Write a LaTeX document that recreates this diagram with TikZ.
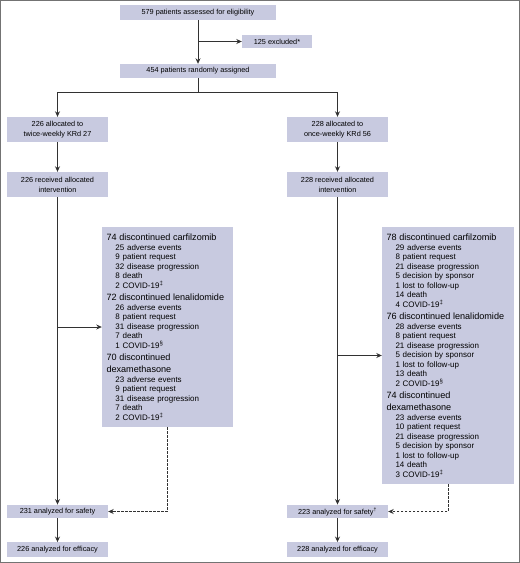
\documentclass[tikz,border=0pt]{standalone}
\usepackage{fontspec}
\setmainfont{Liberation Sans}
\usetikzlibrary{arrows.meta}
\definecolor{boxfill}{RGB}{200,202,224}
\definecolor{linegray}{RGB}{50,50,50}
\definecolor{framegray}{RGB}{115,115,115}
\newcommand{\disc}[1]{{\fontsize{9.1}{12}\selectfont #1}}
\newcommand{\reason}[1]{\hspace*{9pt}#1}

\begin{document}
\begin{tikzpicture}[x=1pt,y=-1pt,
		box/.style={fill=boxfill, inner sep=0pt, align=center, font=\fontsize{7.3}{10}\selectfont},
		armbox/.style={box, minimum width=101pt, minimum height=#1},
		listbox/.style={fill=boxfill, align=left, inner xsep=4.5pt, font=\fontsize{8}{9.5}\selectfont},
		arr/.style={draw=linegray, line width=0.8pt, -{Stealth[length=5.5pt,width=5pt]}},
		darr/.style={arr, dash pattern=on 2.5pt off 1.5pt}]
			\useasboundingbox (0,0) rectangle (520,563);
			\draw[framegray, line width=1pt] (0.5,0.5) rectangle (519.5,562.5);
			% screening
			\node[box, minimum width=156pt, minimum height=15pt] (elig) at (198,12.5) {579 patients assessed for eligibility};
			\node[box, minimum width=70pt, minimum height=13pt] (excl) at (277,41.5) {125 excluded*};
			\node[box, minimum width=156pt, minimum height=14pt] (rand) at (198,71) {454 patients randomly assigned};
			\coordinate (split) at (198,92.7);
			% arms
			\node[armbox=25pt] (alloc1) at (57.5,129.5) {226 allocated to\\twice-weekly KRd 27};
			\node[armbox=25pt] (alloc2) at (337.5,129.5) {228 allocated to\\once-weekly KRd 56};
			\node[armbox=25pt] (recv1) at (57.5,184.5) {226 received allocated\\intervention};
			\node[armbox=25pt] (recv2) at (337.5,184.5) {228 received allocated\\intervention};
			\node[listbox, text width=122pt, minimum height=200pt] (disc1) at (167.5,327) {%
				\disc{74 discontinued carfilzomib}\\
				\reason{25 adverse events}\\
				\reason{9 patient request}\\
				\reason{32 disease progression}\\
				\reason{8 death}\\
				\reason{2 COVID-19\textsuperscript{‡}}\\[3pt]
				\disc{72 discontinued lenalidomide}\\
				\reason{26 adverse events}\\
				\reason{8 patient request}\\
				\reason{31 disease progression}\\
				\reason{7 death}\\
				\reason{1 COVID-19\textsuperscript{§}}\\[3pt]
				\disc{70 discontinued}\\[2.5pt]
				\disc{dexamethasone}\\
				\reason{23 adverse events}\\
				\reason{9 patient request}\\
				\reason{31 disease progression}\\
				\reason{7 death}\\
				\reason{2 COVID-19\textsuperscript{‡}}};
			\node[listbox, text width=123pt, minimum height=257pt] (disc2) at (448,355.5) {%
				\disc{78 discontinued carfilzomib}\\
				\reason{29 adverse events}\\
				\reason{8 patient request}\\
				\reason{21 disease progression}\\
				\reason{5 decision by sponsor}\\
				\reason{1 lost to follow-up}\\
				\reason{14 death}\\
				\reason{4 COVID-19\textsuperscript{‡}}\\[3pt]
				\disc{76 discontinued lenalidomide}\\
				\reason{28 adverse events}\\
				\reason{8 patient request}\\
				\reason{21 disease progression}\\
				\reason{5 decision by sponsor}\\
				\reason{1 lost to follow-up}\\
				\reason{13 death}\\
				\reason{2 COVID-19\textsuperscript{§}}\\[3pt]
				\disc{74 discontinued}\\[2.5pt]
				\disc{dexamethasone}\\
				\reason{23 adverse events}\\
				\reason{10 patient request}\\
				\reason{21 disease progression}\\
				\reason{5 decision by sponsor}\\
				\reason{1 lost to follow-up}\\
				\reason{14 death}\\
				\reason{3 COVID-19\textsuperscript{‡}}};
			\node[armbox=13.5pt] (safe1) at (57.5,511.5) {231 analyzed for safety};
			\node[armbox=13.5pt] (safe2) at (337.5,511.5) {223 analyzed for safety\textsuperscript{†}};
			\node[armbox=14.5pt] (eff1) at (57.5,549.5) {226 analyzed for efficacy};
			\node[armbox=14.5pt] (eff2) at (337.5,549.5) {228 analyzed for efficacy};
			% connectors
			\draw[arr] (elig) -- (rand);
			\draw[arr] (elig.south |- excl.west) -- (excl.west);
			\draw[draw=linegray, line width=0.8pt] (rand) -- (split);
			\draw[arr] (split) -| (alloc1);
			\draw[arr] (split) -| (alloc2);
			\draw[arr] (alloc1) -- (recv1);
			\draw[arr] (alloc2) -- (recv2);
			\draw[arr] (recv1) -- (safe1);
			\draw[arr] (recv2) -- (safe2);
			\draw[arr] (recv1.south |- disc1.west) -- (disc1.west);
			\draw[arr] (recv2.south |- disc2.west) -- (disc2.west);
			\draw[darr] (disc1.south) |- (safe1.east);
			\draw[darr] (disc2.south) |- (safe2.east);
			\draw[arr] (safe1) -- (eff1);
			\draw[arr] (safe2) -- (eff2);
		\end{tikzpicture}
\end{document}
